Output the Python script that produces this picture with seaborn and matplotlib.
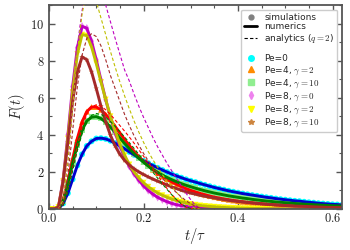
import matplotlib
matplotlib.use("Agg")
import matplotlib.pyplot as plt
from matplotlib.lines import Line2D
from matplotlib.ticker import MultipleLocator, FuncFormatter
import numpy as np
import pandas as pd
import seaborn as sns

# time grid of the simulations / numerics (t / tau)
t_sim = [
    0.00, 0.01, 0.02, 0.03, 0.04, 0.05, 0.06, 0.07, 0.08, 0.09,
    0.10, 0.11, 0.12, 0.13, 0.14, 0.15, 0.16, 0.17, 0.18, 0.19,
    0.20, 0.21, 0.22, 0.23, 0.24, 0.25, 0.26, 0.27, 0.28, 0.29,
    0.30, 0.31, 0.32, 0.33, 0.34, 0.35, 0.36, 0.37, 0.38, 0.39,
    0.40, 0.41, 0.42, 0.43, 0.44, 0.45, 0.46, 0.47, 0.48, 0.49,
    0.50, 0.51, 0.52, 0.53, 0.54, 0.55, 0.56, 0.57, 0.58, 0.59,
    0.60, 0.61, 0.62,
]

F_pe0 = [
    0, 0, 0.02, 0.3, 0.85, 1.6, 2.35, 2.95, 3.4, 3.65,
    3.8, 3.82, 3.78, 3.68, 3.55, 3.4, 3.25, 3.08, 2.92, 2.76,
    2.6, 2.47, 2.34, 2.22, 2.1, 1.99, 1.88, 1.78, 1.69, 1.6,
    1.52, 1.45, 1.37, 1.3, 1.23, 1.16, 1.1, 1.04, 0.98, 0.93,
    0.88, 0.83, 0.79, 0.75, 0.71, 0.67, 0.63, 0.6, 0.56, 0.53,
    0.5, 0.47, 0.44, 0.42, 0.39, 0.36, 0.34, 0.31, 0.29, 0.27,
    0.25, 0.24, 0.22,
]
F_pe4_g2 = [
    0, 0, 0.03, 0.5, 1.5, 2.7, 3.8, 4.7, 5.25, 5.5,
    5.5, 5.35, 5.1, 4.8, 4.45, 4.1, 3.75, 3.42, 3.1, 2.82,
    2.56, 2.33, 2.12, 1.93, 1.76, 1.6, 1.46, 1.33, 1.21, 1.1,
    1.0, 0.92, 0.84, 0.77, 0.7, 0.64, 0.59, 0.54, 0.5, 0.46,
    0.42, 0.39, 0.36, 0.33, 0.31, 0.28, 0.26, 0.24, 0.22, 0.2,
    0.19, 0.17, 0.16, 0.15, 0.14, 0.13, 0.12, 0.11, 0.1, 0.09,
    0.085, 0.08, 0.075,
]
F_pe4_g10 = [
    0, 0, 0.03, 0.45, 1.35, 2.45, 3.45, 4.25, 4.75, 4.95,
    4.98, 4.88, 4.68, 4.42, 4.13, 3.83, 3.53, 3.25, 2.98, 2.74,
    2.52, 2.32, 2.14, 1.98, 1.83, 1.7, 1.58, 1.47, 1.37, 1.28,
    1.2, 1.12, 1.05, 0.98, 0.92, 0.86, 0.81, 0.76, 0.71, 0.67,
    0.63, 0.59, 0.56, 0.52, 0.49, 0.46, 0.43, 0.41, 0.38, 0.36,
    0.34, 0.32, 0.3, 0.28, 0.26, 0.25, 0.23, 0.22, 0.2, 0.19,
    0.18, 0.17, 0.16,
]
F_pe8_g0 = [
    0, 0, 0.1, 1.6, 4.0, 6.6, 8.7, 9.85, 9.75, 9.05,
    8.05, 6.95, 5.9, 4.95, 4.1, 3.4, 2.8, 2.3, 1.9, 1.55,
    1.25, 1.0, 0.8, 0.63, 0.5, 0.39, 0.3, 0.23, 0.18, 0.14,
    0.1, 0.08, 0.06, 0.045, 0.035, 0.025, 0.02, 0.015, 0.01, 0.01,
    0.01, 0, 0, 0, 0, 0, 0, 0, 0, 0,
    0, 0, 0, 0, 0, 0, 0, 0, 0, 0,
    0, 0, 0,
]
F_pe8_g2 = [
    0, 0, 0.1, 1.5, 3.8, 6.3, 8.35, 9.4, 9.35, 8.75,
    7.85, 6.85, 5.9, 5.0, 4.2, 3.5, 2.9, 2.4, 2.0, 1.68,
    1.42, 1.2, 1.02, 0.86, 0.74, 0.63, 0.53, 0.45, 0.38, 0.32,
    0.27, 0.23, 0.19, 0.16, 0.14, 0.12, 0.1, 0.085, 0.07, 0.06,
    0.05, 0.04, 0.035, 0.03, 0.025, 0.02, 0.015, 0.012, 0.01, 0.01,
    0.01, 0, 0, 0, 0, 0, 0, 0, 0, 0,
    0, 0, 0,
]
F_pe8_g10 = [
    0, 0, 0.1, 1.5, 3.6, 5.8, 7.4, 8.2, 8.05, 7.4,
    6.5, 5.55, 4.7, 3.98, 3.4, 2.95, 2.62, 2.37, 2.17, 2.0,
    1.86, 1.73, 1.61, 1.5, 1.39, 1.29, 1.19, 1.1, 1.01, 0.93,
    0.86, 0.8, 0.74, 0.69, 0.64, 0.6, 0.55, 0.51, 0.47, 0.44,
    0.41, 0.38, 0.35, 0.33, 0.3, 0.28, 0.26, 0.24, 0.22, 0.21,
    0.19, 0.18, 0.16, 0.15, 0.14, 0.13, 0.12, 0.11, 0.1, 0.09,
    0.085, 0.08, 0.075,
]

# analytic approximation (q = 2)
t_an = [
    0.02, 0.03, 0.04, 0.05, 0.06, 0.07, 0.08, 0.09, 0.10, 0.11,
    0.12, 0.13, 0.14, 0.15, 0.16, 0.17, 0.18, 0.19, 0.20, 0.21,
    0.22, 0.23, 0.24, 0.25, 0.26, 0.27, 0.28, 0.29, 0.30, 0.31,
    0.32,
]
A_pe4_g2 = [
    0, 0.2, 1.0, 2.2, 3.4, 4.4, 5.1, 5.5, 5.62, 5.55,
    5.35, 5.1, 4.8, 4.5, 4.2, 3.88, 3.55, 3.2, 2.85, 2.5,
    2.15, 1.8, 1.45, 1.1, 0.78, 0.5, 0.26, 0.1, 0.02, 0,
    0,
]
A_pe4_g10 = [
    0, 0.2, 0.95, 2.05, 3.15, 4.05, 4.7, 5.05, 5.15, 5.1,
    4.95, 4.72, 4.45, 4.17, 3.88, 3.58, 3.27, 2.95, 2.63, 2.3,
    1.98, 1.66, 1.35, 1.05, 0.76, 0.5, 0.28, 0.11, 0.02, 0,
    0,
]
A_pe8_g0 = [
    0, 0.5, 2.5, 5.5, 8.8, 10.7, 12.0, 12.6, 12.6, 12.0,
    11.0, 10.1, 9.2, 8.35, 7.5, 6.9, 6.2, 5.55, 4.95, 4.4,
    3.85, 3.35, 2.9, 2.45, 2.05, 1.65, 1.25, 0.85, 0.5, 0.2,
    0.03,
]
A_pe8_g2 = [
    0, 0.5, 2.5, 5.4, 8.5, 10.5, 11.8, 11.9, 11.2, 10.3,
    9.4, 8.5, 7.65, 6.85, 6.1, 5.4, 4.75, 4.15, 3.6, 3.1,
    2.65, 2.25, 1.85, 1.5, 1.2, 0.9, 0.6, 0.35, 0.15, 0.03,
    0,
]
A_pe8_g10 = [
    0, 0.3, 1.8, 4.2, 6.6, 8.3, 9.2, 9.45, 9.3, 8.8,
    8.05, 7.2, 6.5, 5.8, 5.1, 4.5, 3.95, 3.45, 3.0, 2.6,
    2.25, 1.95, 1.65, 1.38, 1.12, 0.88, 0.65, 0.45, 0.28, 0.14,
    0.04,
]

cases = ["Pe=0", r"Pe=4, $\gamma=2$", r"Pe=4, $\gamma=10$",
         r"Pe=8, $\gamma=0$", r"Pe=8, $\gamma=2$", r"Pe=8, $\gamma=10$"]
sim_colors = ["cyan", "darkorange", "lightgreen", "violet", "yellow", "peru"]
sim_markers = ["o", "^", "s", "d", "v", "*"]
num_colors = ["mediumblue", "red", "green", "m", "y", "brown"]

sims = [F_pe0, F_pe4_g2, F_pe4_g10, F_pe8_g0, F_pe8_g2, F_pe8_g10]
df = pd.concat([pd.DataFrame({"t": t_sim, "F": f, "case": c})
                for f, c in zip(sims, cases)], ignore_index=True)

an_cases = cases[1:]
an = [A_pe4_g2, A_pe4_g10, A_pe8_g0, A_pe8_g2, A_pe8_g10]
df_an = pd.concat([pd.DataFrame({"t": t_an, "F": f, "case": c})
                   for f, c in zip(an, an_cases)], ignore_index=True)

sns.set_style("ticks")
plt.rcParams["mathtext.fontset"] = "cm"
plt.rcParams["font.family"] = ["DejaVu Sans"]

fig = plt.figure(figsize=(3.5, 2.5), dpi=100)
ax = fig.add_axes([0.14, 0.164, 0.837, 0.816])

sns.scatterplot(data=df, x="t", y="F", hue="case", style="case",
                palette=dict(zip(cases, sim_colors)),
                markers=dict(zip(cases, sim_markers)),
                s=18, linewidth=0, legend=False, zorder=1, ax=ax)
sns.lineplot(data=df, x="t", y="F", hue="case",
             palette=dict(zip(cases, num_colors)), lw=2.1,
             legend=False, zorder=2, ax=ax)
sns.lineplot(data=df_an, x="t", y="F", hue="case",
             palette=dict(zip(cases, num_colors)), lw=0.8,
             linestyle=(0, (3, 2)), legend=False, zorder=3, ax=ax)

ax.set_xlim(0, 0.62)
ax.set_ylim(0, 11)
ax.xaxis.set_major_locator(MultipleLocator(0.2))
ax.xaxis.set_minor_locator(MultipleLocator(0.05))
ax.yaxis.set_major_locator(MultipleLocator(2))
ax.yaxis.set_minor_locator(MultipleLocator(1))
ax.xaxis.set_major_formatter(FuncFormatter(lambda v, p: f"${v:.1f}$"))
ax.yaxis.set_major_formatter(FuncFormatter(lambda v, p: f"${v:.0f}$"))

spine_col = "#555555"
for s in ax.spines.values():
    s.set_color(spine_col)
    s.set_linewidth(1.3)
ax.tick_params(which="both", direction="in", top=True, right=True,
               color=spine_col, labelsize=9, labelcolor="#222222")
ax.tick_params(which="major", length=4, width=1)
ax.tick_params(which="minor", length=2, width=0.8)
ax.tick_params(axis="x", pad=2)

ax.set_xlabel(r"$t/\tau$", fontsize=10.5, labelpad=1)
ax.set_ylabel(r"$F(t)$", fontsize=10.5, labelpad=2)

handles = [
    Line2D([], [], ls="", marker="o", color="gray", ms=3.5),
    Line2D([], [], color="black", lw=2),
    Line2D([], [], color="black", lw=0.8, ls=(0, (3, 2))),
    Line2D([], [], ls="", marker=""),
]
labels = ["simulations", "numerics", r"analytics ($q=2$)", ""]
for c, col, m in zip(cases, sim_colors, sim_markers):
    handles.append(Line2D([], [], ls="", marker=m, color=col, ms=4))
    labels.append(c)
ax.legend(handles, labels, loc="upper right", fontsize=6.5,
          labelspacing=0.05, handlelength=1.4, handletextpad=0.8,
          handleheight=0.6, borderpad=0.35, borderaxespad=0.5,
          frameon=True, fancybox=True, edgecolor="#cccccc", framealpha=1)

fig.savefig("out.png", dpi=100)
